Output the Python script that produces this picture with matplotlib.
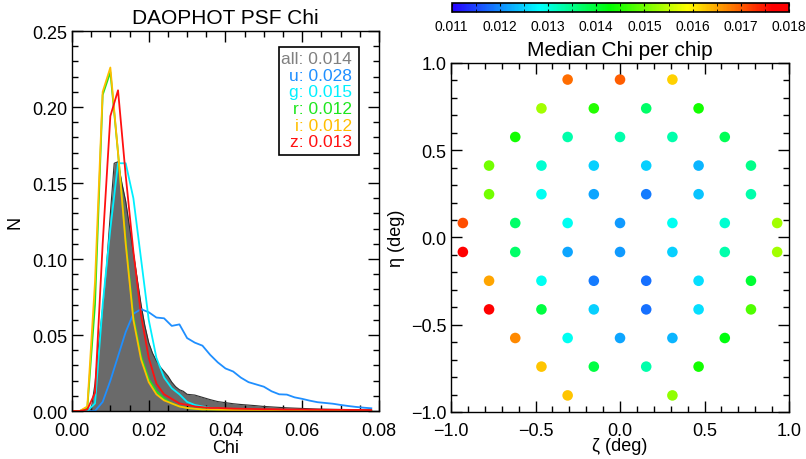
import numpy as np
import matplotlib
matplotlib.use("Agg")
import matplotlib.pyplot as plt
from matplotlib.colors import LinearSegmentedColormap
from matplotlib.patches import Rectangle
from matplotlib.ticker import MultipleLocator, FormatStrFormatter, FuncFormatter

plt.rcParams['font.family'] = ['Liberation Sans', 'DejaVu Sans']
plt.rcParams['axes.linewidth'] = 1.0

# ---- left panel: normalised histograms of PSF chi ----
chi = np.round(np.arange(0, 0.0781, 0.002), 3)
chi_all = [0.000, 0.002, 0.004, 0.005, 0.006, 0.007, 0.008, 0.009, 0.010, 0.011,
           0.012, 0.013, 0.014, 0.015, 0.016, 0.017, 0.018, 0.019, 0.020, 0.021,
           0.022, 0.023, 0.024, 0.025, 0.026, 0.027, 0.028, 0.029, 0.030, 0.032,
           0.034, 0.036, 0.038, 0.040, 0.042, 0.044, 0.046, 0.048, 0.050, 0.052,
           0.054, 0.056, 0.058, 0.060, 0.062, 0.064, 0.066, 0.068, 0.070, 0.072,
           0.074, 0.076, 0.078]
n_all = [0.0, 0.0, 0.0, 0.001, 0.018, 0.045, 0.068, 0.095, 0.130, 0.163,
         0.164, 0.150, 0.138, 0.121, 0.104, 0.087, 0.070, 0.056, 0.045, 0.038,
         0.033, 0.029, 0.026, 0.023, 0.019, 0.016, 0.014, 0.013, 0.011, 0.0105,
         0.009, 0.0075, 0.0062, 0.0055, 0.0048, 0.0043, 0.0039, 0.0035, 0.0030, 0.0027,
         0.0024, 0.0021, 0.0019, 0.0017, 0.0015, 0.0013, 0.0012, 0.0011, 0.0010, 0.0010,
         0.0009, 0.0008, 0.0008]

n_u = [0, 0, 0, 0, 0.006, 0.020, 0.036, 0.052, 0.064, 0.067,
       0.065, 0.0615, 0.061, 0.056, 0.057, 0.048, 0.045, 0.043, 0.037, 0.032,
       0.028, 0.026, 0.022, 0.019, 0.0175, 0.016, 0.013, 0.011, 0.0108, 0.009,
       0.008, 0.0068, 0.0058, 0.0053, 0.0048, 0.0040, 0.0033, 0.0027, 0.0022, 0.0018]
n_g = [0, 0, 0, 0.005, 0.070, 0.120, 0.163, 0.163, 0.140, 0.100,
       0.060, 0.035, 0.022, 0.015, 0.011, 0.006, 0.004, 0.003, 0.002, 0.0015,
       0.001, 0.001, 0.0008, 0.0007, 0.0006, 0.0005, 0.0005, 0.0004, 0.0004, 0.0003,
       0.0003, 0.0003, 0.0002, 0.0002, 0.0002, 0.0002, 0.0001, 0.0001, 0.0001, 0.0001]
n_r = [0, 0, 0.002, 0.070, 0.208, 0.223, 0.170, 0.112, 0.062, 0.036,
       0.021, 0.013, 0.008, 0.005, 0.003, 0.002, 0.0015, 0.001, 0.001, 0.0008,
       0.0007, 0.0006, 0.0005, 0.0005, 0.0004, 0.0004, 0.0003, 0.0003, 0.0003, 0.0002,
       0.0002, 0.0002, 0.0002, 0.0001, 0.0001, 0.0001, 0.0001, 0.0001, 0.0001, 0.0001]
n_i = [0, 0, 0.003, 0.085, 0.210, 0.226, 0.170, 0.110, 0.060, 0.034,
       0.019, 0.011, 0.007, 0.005, 0.003, 0.002, 0.0015, 0.001, 0.001, 0.0008,
       0.0007, 0.0006, 0.0005, 0.0005, 0.0004, 0.0004, 0.0003, 0.0003, 0.0003, 0.0002,
       0.0002, 0.0002, 0.0002, 0.0001, 0.0001, 0.0001, 0.0001, 0.0001, 0.0001, 0.0001]
n_z = [0, 0, 0.001, 0.012, 0.110, 0.194, 0.211, 0.155, 0.105, 0.063,
       0.035, 0.018, 0.011, 0.008, 0.005, 0.004, 0.003, 0.0025, 0.002, 0.002,
       0.0018, 0.0016, 0.0015, 0.0014, 0.0013, 0.0012, 0.0012, 0.0011, 0.001, 0.001,
       0.001, 0.0009, 0.0009, 0.0008, 0.0008, 0.0008, 0.0007, 0.0007, 0.0007, 0.0006]

bands = ['u', 'g', 'r', 'i', 'z']
band_n = [n_u, n_g, n_r, n_i, n_z]
band_colors = ['#1f8fff', '#00f0ff', '#1ee61e', '#ffbe00', '#ff1010']
median_labels = ['all: 0.014', 'u: 0.028', 'g: 0.015', 'r: 0.012', 'i: 0.012', 'z: 0.013']
label_colors = ['#808080'] + band_colors

# ---- right panel: median chi per CCD ----
zeta = [-0.31, 0.0, 0.31,
        -0.465, -0.155, 0.155, 0.465,
        -0.62, -0.31, 0.0, 0.31, 0.62,
        -0.775, -0.465, -0.155, 0.155, 0.465, 0.775,
        -0.775, -0.465, -0.155, 0.155, 0.465, 0.775,
        -0.93, -0.62, -0.31, 0.0, 0.31, 0.62, 0.93,
        -0.93, -0.62, -0.31, 0.0, 0.31, 0.62, 0.93,
        -0.775, -0.465, -0.155, 0.155, 0.465, 0.775,
        -0.775, -0.465, -0.155, 0.155, 0.465, 0.775,
        -0.62, -0.31, 0.0, 0.31, 0.62,
        -0.465, -0.155, 0.155, 0.465,
        -0.31, 0.31]
eta = [0.905] * 3 + [0.740] * 4 + [0.576] * 5 + [0.412] * 6 + [0.248] * 6 + \
      [0.083] * 7 + [-0.083] * 7 + [-0.248] * 6 + [-0.412] * 6 + [-0.576] * 5 + \
      [-0.740] * 4 + [-0.905] * 2
chip_chi = [0.0169, 0.0170, 0.0162,
            0.0153, 0.0145, 0.0137, 0.0144,
            0.0144, 0.0133, 0.0133, 0.0133, 0.0138,
            0.0150, 0.0131, 0.0125, 0.0125, 0.0123, 0.0135,
            0.0150, 0.0129, 0.0122, 0.0119, 0.0124, 0.0133,
            0.0171, 0.0137, 0.0129, 0.0121, 0.0129, 0.0131, 0.0153,
            0.0179, 0.0137, 0.0122, 0.0121, 0.0125, 0.0133, 0.0153,
            0.0165, 0.0129, 0.0119, 0.0118, 0.0126, 0.0140,
            0.0179, 0.0139, 0.0125, 0.0118, 0.0126, 0.0148,
            0.0167, 0.0129, 0.0122, 0.0123, 0.0142,
            0.0163, 0.0139, 0.0133, 0.0144,
            0.0163, 0.0152]

rainbow = LinearSegmentedColormap.from_list(
    'idl_rainbow', [(0.0, (0.15, 0.0, 1.0)), (0.26, (0.0, 1.0, 1.0)), (0.47, (0.0, 1.0, 0.0)),
                    (0.70, (1.0, 1.0, 0.0)), (0.95, (1.0, 0.0, 0.0)), (1.0, (1.0, 0.0, 0.0))])


def idl_ticks(ax, xmaj, xmin, ymaj, ymin):
    ax.xaxis.set_major_locator(MultipleLocator(xmaj))
    ax.xaxis.set_minor_locator(MultipleLocator(xmin))
    ax.yaxis.set_major_locator(MultipleLocator(ymaj))
    ax.yaxis.set_minor_locator(MultipleLocator(ymin))
    ax.tick_params(which='both', direction='in', top=True, right=True, labelsize=13)
    ax.tick_params(which='major', length=8, width=1)
    ax.tick_params(which='minor', length=4, width=1)
    ax.tick_params(axis='x', which='major', pad=8)


def minus_fmt(fmt):
    return FuncFormatter(lambda v, pos: (fmt % v).replace('-', '\u2212'))


fig = plt.figure(figsize=(8.06, 4.6), dpi=100)

ax1 = fig.add_axes([0.0893, 0.1043, 0.3809, 0.8261])
ax1.fill_between(chi_all, n_all, 0, color='#6a6a6a', lw=0)
ax1.plot(chi_all, n_all, color='#303030', lw=0.8)
for n, c in zip(band_n, band_colors):
    ax1.plot(chi, n, color=c, lw=1.3)
ax1.set_xlim(0, 0.08)
ax1.set_ylim(0, 0.25)
idl_ticks(ax1, 0.02, 0.005, 0.05, 0.01)
ax1.xaxis.set_major_formatter(FormatStrFormatter('%.2f'))
ax1.yaxis.set_major_formatter(FormatStrFormatter('%.2f'))
ax1.set_title('DAOPHOT PSF Chi', fontsize=15, pad=6)
ax1.set_xlabel('Chi', fontsize=13, labelpad=0)
ax1.set_ylabel('N', fontsize=13, labelpad=6)

ax1.add_patch(Rectangle((0.674, 0.674), 0.261, 0.284, transform=ax1.transAxes,
                        fill=False, ec='black', lw=1.2))
for i, (lab, c) in enumerate(zip(median_labels, label_colors)):
    ax1.text(0.912, 0.928 - i * 0.044, lab, color=c, fontsize=12.5,
             ha='right', va='center', transform=ax1.transAxes)

ax2 = fig.add_axes([0.5596, 0.1022, 0.4193, 0.7587])
sc = ax2.scatter(zeta, eta, c=chip_chi, cmap=rainbow, vmin=0.011, vmax=0.018,
                 s=58, edgecolors='none')
ax2.set_xlim(-1, 1)
ax2.set_ylim(-1, 1)
idl_ticks(ax2, 0.5, 0.1, 0.5, 0.1)
ax2.tick_params(axis='x', which='major', pad=7)
ax2.xaxis.set_major_formatter(minus_fmt('%.1f'))
ax2.yaxis.set_major_formatter(minus_fmt('%.1f'))
ax2.set_title('Median Chi per chip', fontsize=15, pad=6)
ax2.set_xlabel('ζ (deg)', fontsize=13, labelpad=-1)
ax2.set_ylabel('η (deg)', fontsize=13, labelpad=4)

cax = fig.add_axes([0.5604, 0.9717, 0.4185, 0.0196])
cb = fig.colorbar(sc, cax=cax, orientation='horizontal')
cb.set_ticks(np.round(np.arange(0.011, 0.0181, 0.001), 3))
cb.ax.xaxis.set_major_formatter(FormatStrFormatter('%.3f'))
cb.ax.xaxis.set_minor_locator(MultipleLocator(0.0005))
cb.ax.tick_params(which='both', direction='in', top=True, bottom=True, labelsize=10,
                  length=2, pad=5)
cb.outline.set_linewidth(1.2)

fig.savefig('out.png', dpi=100)
